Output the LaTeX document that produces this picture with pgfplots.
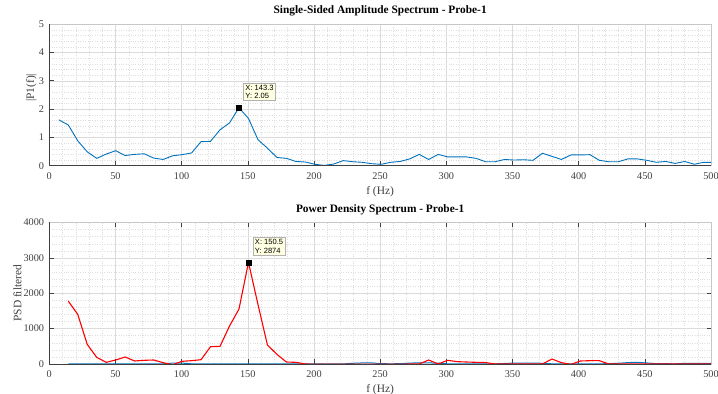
\documentclass[border=0pt]{standalone}
\usepackage{pgfplots}
\pgfplotsset{compat=1.18}
\usepackage{pgfplotstable}
\usepackage{fontspec}
\setmainfont{Liberation Serif}
\newfontfamily\tipfont{Liberation Sans}
\definecolor{mblue}{rgb}{0,0.447,0.741}
\definecolor{tipbg}{HTML}{FFFFE1}

% single-sided amplitude spectrum, probe 1
\pgfplotstableread{
f     p1
7.17   1.62
14.33  1.44
21.50  0.88
28.67  0.49
35.83  0.26
43.00  0.41
50.17  0.53
57.33  0.36
64.50  0.40
71.67  0.42
78.83  0.27
86.00  0.22
93.17  0.35
100.33 0.39
107.50 0.45
114.67 0.85
121.83 0.86
129.00 1.27
136.17 1.51
143.33 2.05
150.50 1.67
157.67 0.92
164.83 0.62
172.00 0.29
179.17 0.26
186.33 0.15
193.50 0.13
200.67 0.05
207.83 0.01
215.00 0.06
222.17 0.18
229.33 0.14
236.50 0.12
243.67 0.07
250.83 0.05
258.00 0.12
265.17 0.15
272.33 0.24
279.50 0.40
286.67 0.22
293.83 0.40
301.00 0.31
308.17 0.31
315.33 0.31
322.50 0.26
329.67 0.14
336.83 0.14
344.00 0.22
351.17 0.20
358.33 0.21
365.50 0.19
372.67 0.44
379.83 0.33
387.00 0.22
394.17 0.38
401.33 0.38
408.50 0.39
415.67 0.19
422.83 0.14
430.00 0.14
437.17 0.24
444.33 0.24
451.50 0.19
458.67 0.12
465.83 0.15
473.00 0.08
480.17 0.15
487.33 0.05
494.50 0.12
501.67 0.12
}\ampdata

% power density spectra: filtered (red) and reference (blue)
\pgfplotstableread{
f      psd   ref
14.33  1779  2
21.50  1402  2
28.67  555   2
35.83  188   2
43.00  47    2
50.17  113   2
57.33  198   2
64.50  85    2
71.67  104   2
78.83  113   2
86.00  38    5
93.17  -20   25
100.33 75    25
107.50 94    5
114.67 122   2
121.83 489   2
129.00 499   2
136.17 1073  2
143.33 1553  2
150.50 2874  2
157.67 1685  2
164.83 536   2
172.00 273   2
179.17 56    2
186.33 47    2
193.50 0     2
200.67 -5    2
207.83 -5    2
215.00 -5    2
222.17 -5    2
229.33 -5    20
236.50 -5    30
243.67 -5    30
250.83 -5    10
258.00 -5    5
265.17 -5    10
272.33 0     25
279.50 0     35
286.67 113   30
293.83 0     25
301.00 104   5
308.17 66    5
315.33 56    5
322.50 47    5
329.67 40    5
336.83 0     5
344.00 0     15
351.17 0     25
358.33 0     25
365.50 0     25
372.67 0     20
379.83 141   5
387.00 38    5
394.17 -10   5
401.33 85    5
408.50 94    5
415.67 94    5
422.83 0     10
430.00 0     20
437.17 0     40
444.33 0     45
451.50 0     30
458.67 0     10
465.83 0     10
473.00 0     5
480.17 0     20
487.33 0     15
494.50 0     20
501.67 0     20
}\psddata

\tikzset{
  datatip/.style={
    font=\tipfont\fontsize{7.6}{8.6}\selectfont, align=left,
    fill=tipbg, draw=black!30, line width=0.4bp, inner sep=1.8bp,
    anchor=south west, xshift=4.5bp, yshift=7bp
  }
}

\pgfplotsset{
  spec/.style={
    scale only axis, width=661.7bp, height=141.5bp,
    xmin=0, xmax=500, xtick={0,50,...,500}, minor x tick num=4,
    grid=both,
    major grid style={black!14, line width=0.5bp},
    minor grid style={black!13, dotted, line width=0.4bp},
    axis line style={black!22, line width=0.5bp},
    tick style={black!75, line width=0.6bp},
    major tick length=4.5bp, minor tick length=0pt, tick align=inside,
    ticklabel style={font=\fontsize{10.3}{12}\selectfont, text=black!75},
    /pgf/number format/assume math mode=true,
    /pgf/number format/1000 sep={},
    scaled ticks=false,
    xticklabel style={inner sep=0pt, anchor=north, yshift=-6.5bp},
    yticklabel style={inner sep=0pt, anchor=east, xshift=-5bp},
    title style={font=\bfseries\fontsize{11.4}{13}\selectfont,
      at={(axis description cs:0.5,1)}, anchor=base, inner sep=0pt, yshift=4.5bp},
    xlabel style={font=\fontsize{11.5}{13}\selectfont, text=black!75,
      at={(axis description cs:0.5,0)}, anchor=north, inner sep=0pt, yshift=-20.5bp},
    after end axis/.code={
      \draw[black!75, line width=0.7bp]
        (rel axis cs:0,1) -- (rel axis cs:0,0) -- (rel axis cs:1,0);
    },
  },
}

\begin{document}
\begin{tikzpicture}
\useasboundingbox (0bp,0bp) rectangle (718bp,394bp);

\begin{axis}[spec,
  at={(49.3bp,228.3bp)}, anchor=south west,
  ymin=0, ymax=5, ytick={0,1,...,5}, minor y tick num=4,
  xtick pos=bottom, ytick pos=left,
  title={Single-Sided Amplitude Spectrum - Probe-1},
  xlabel={f (Hz)},
  ylabel={|P1(f)|},
  ylabel style={font=\fontsize{11.5}{13}\selectfont, text=black!75,
    at={(axis description cs:-0.0272,0.55)}, anchor=center, rotate=0},
]
\addplot[mblue, line width=0.9bp] table[x=f, y=p1] {\ampdata};
\addplot[only marks, mark=square*, mark size=2.5bp, black] coordinates {(143.33,2.05)};
\node[datatip] at (axis cs:143.33,2.05) {X: 143.3\\Y: 2.05};
\end{axis}

\begin{axis}[spec,
  at={(49.3bp,30bp)}, anchor=south west,
  ymin=0, ymax=4000, ytick={0,1000,...,4000}, minor y tick num=4,
  title={Power Density Spectrum - Probe-1},
  xlabel={f (Hz)},
  ylabel={PSD filtered},
  ylabel style={font=\fontsize{11.5}{13}\selectfont, text=black!75,
    at={(axis description cs:-0.0484,0.5)}, anchor=center, rotate=0},
]
\addplot[mblue, line width=1bp] table[x=f, y=ref] {\psddata};
\addplot[red, line width=1.1bp] table[x=f, y=psd] {\psddata};
\addplot[only marks, mark=square*, mark size=2.5bp, black] coordinates {(150.5,2874)};
\node[datatip] at (axis cs:150.5,2874) {X: 150.5\\Y: 2874};
\end{axis}
\end{tikzpicture}
\end{document}
